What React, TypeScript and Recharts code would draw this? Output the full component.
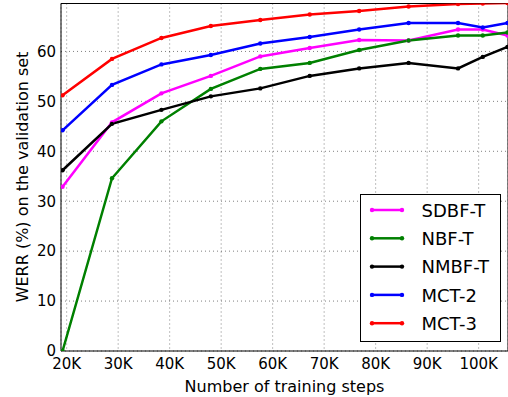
import React from "react"
import { LineChart, Line, XAxis, YAxis, CartesianGrid, ReferenceLine, Label } from "recharts"

const steps = [19200, 28800, 38400, 48000, 57600, 67200, 76800, 86400, 96000, 100800, 105600]
const sdbfT = [32.9, 45.8, 51.6, 55.1, 59.0, 60.7, 62.3, 62.2, 64.4, 64.4, 63.2]
const nbfT = [0, 34.6, 46.0, 52.5, 56.5, 57.7, 60.3, 62.2, 63.2, 63.2, 63.8]
const nmbfT = [36.2, 45.5, 48.3, 51.0, 52.6, 55.1, 56.6, 57.7, 56.6, 58.9, 60.9]
const mct2 = [44.2, 53.3, 57.4, 59.3, 61.6, 62.9, 64.4, 65.7, 65.7, 64.8, 65.7]
const mct3 = [51.2, 58.5, 62.7, 65.1, 66.3, 67.4, 68.1, 69.0, 69.5, 69.6, 69.7]

const xTicks = [20000, 30000, 40000, 50000, 60000, 70000, 80000, 90000, 100000]
const yTicks = [0, 10, 20, 30, 40, 50, 60]

const series = [
  { key: "sdbf", name: "SDBF-T", color: "#ff00ff", values: sdbfT },
  { key: "nbf", name: "NBF-T", color: "#008000", values: nbfT },
  { key: "nmbf", name: "NMBF-T", color: "#000000", values: nmbfT },
  { key: "mct2", name: "MCT-2", color: "#0000ff", values: mct2 },
  { key: "mct3", name: "MCT-3", color: "#ff0000", values: mct3 },
]

const data = steps.map((step, i) => {
  const row: Record<string, number> = { step }
  series.forEach((s) => {
    row[s.key] = s.values[i]
  })
  return row
})

const font = "DejaVu Sans"
const yMax = 69.6

function LegendBox() {
  return (
    <svg width={141} height={148} style={{ display: "block" }}>
      <rect x={0.5} y={0.5} width={140} height={147} fill="#fff" stroke="#000" strokeWidth={1} />
      {series.map((s, i) => {
        const cy = 16 + i * 28.3
        return (
          <g key={s.key}>
            <line x1={12} x2={42} y1={cy} y2={cy} stroke={s.color} strokeWidth={2.5} />
            <circle cx={12} cy={cy} r={2.2} fill={s.color} />
            <circle cx={42} cy={cy} r={2.2} fill={s.color} />
            <text x={61.5} y={cy + 6.6} fontSize={18} fontFamily={font} fill="#000">
              {s.name}
            </text>
          </g>
        )
      })}
    </svg>
  )
}

export default function App() {
  return (
    <div style={{ position: "absolute", left: 0, top: 0, width: 508, height: 397, background: "#fff" }}>
      <LineChart width={508} height={397} data={data} margin={{ top: 3.5, right: 0, bottom: 0, left: 0 }}>
        <CartesianGrid stroke="#000" strokeOpacity={0.5} strokeDasharray="1 3" />
        <XAxis
          dataKey="step"
          type="number"
          domain={[18900, 105700]}
          allowDataOverflow
          ticks={xTicks}
          tickFormatter={(v: number) => `${v / 1000}K`}
          height={46}
          stroke="#000"
          tickLine={false}
          tickSize={0}
          tickMargin={7}
          tick={{ fill: "#000", fontSize: 15, fontFamily: font }}
        >
          <Label
            value="Number of training steps"
            position="insideBottom"
            offset={5}
            style={{ fill: "#000", fontSize: 16, fontFamily: font }}
          />
        </XAxis>
        <YAxis
          type="number"
          domain={[0, yMax]}
          allowDataOverflow
          ticks={yTicks}
          width={61}
          stroke="#000"
          tickLine={false}
          tickSize={0}
          tickMargin={5}
          tick={{ fill: "#000", fontSize: 15, fontFamily: font }}
          label={{
            content: () => (
              <text
                x={27.5}
                y={177}
                transform="rotate(-90 27.5 177)"
                textAnchor="middle"
                fontSize={16}
                fontFamily={font}
                fill="#000"
              >
                WERR (%) on the validation set
              </text>
            ),
          }}
        />
        <ReferenceLine y={yMax} stroke="#000" strokeWidth={1} />
        <ReferenceLine x={105700} stroke="#000" strokeWidth={1} />
        {series.map((s) => (
          <Line
            key={s.key}
            dataKey={s.key}
            name={s.name}
            stroke={s.color}
            strokeWidth={2.5}
            dot={{ r: 2.2, fill: s.color, stroke: s.color, strokeWidth: 0 }}
            activeDot={false}
            isAnimationActive={false}
          />
        ))}
      </LineChart>
      <div style={{ position: "absolute", left: 360, top: 194 }}>
        <LegendBox />
      </div>
    </div>
  )
}
